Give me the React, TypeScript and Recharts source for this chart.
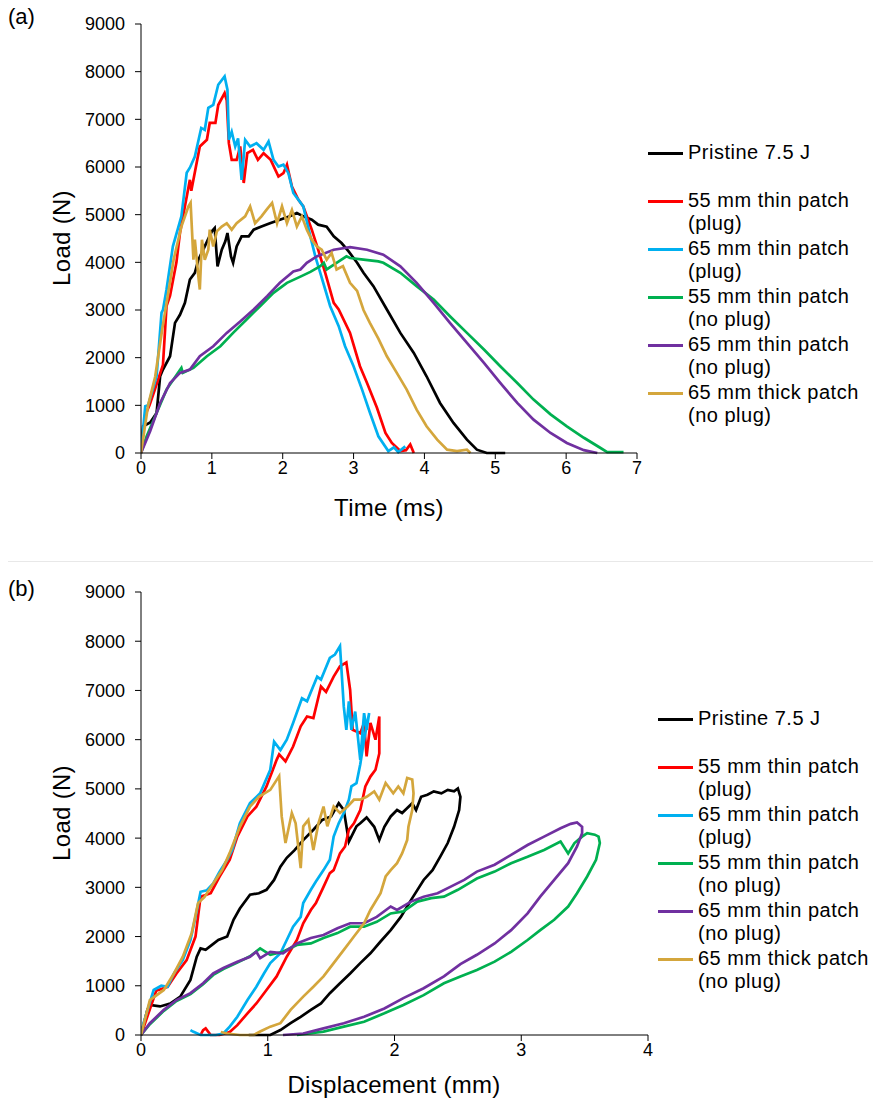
import { LineChart, Line, XAxis, YAxis } from 'recharts'

// ---- series names + colours ----
const SERIES_NAMES = [
  ['Pristine 7.5 J'],
  ['55 mm thin patch', '(plug)'],
  ['65 mm thin patch', '(plug)'],
  ['55 mm thin patch', '(no plug)'],
  ['65 mm thin patch', '(no plug)'],
  ['65 mm thick patch', '(no plug)'],
]
const SERIES_COLORS = ['#000000', '#ff0000', '#00b0f0', '#00b050', '#7030a0', '#d4a63c']

const LOAD_TICKS = [0, 1000, 2000, 3000, 4000, 5000, 6000, 7000, 8000, 9000]
const TIME_TICKS = [0, 1, 2, 3, 4, 5, 6, 7]
const DISP_TICKS = [0, 1, 2, 3, 4]

// ---- (a) load vs time, [ms, N] ----
const PRISTINE_TIME = [
  [0, 0], [0.03, 560], [0.13, 640], [0.22, 840], [0.27, 1610], [0.31, 1750], [0.41, 2030], [0.48, 2730],
  [0.55, 2900], [0.62, 3150], [0.69, 3640], [0.76, 3780], [0.81, 4055], [0.9, 4335], [1.0, 4650], [1.04, 4720],
  [1.08, 3915], [1.14, 4265], [1.19, 4440], [1.22, 4615], [1.27, 4125], [1.3, 3990], [1.35, 4335], [1.42, 4545],
  [1.52, 4545], [1.59, 4685], [1.7, 4750], [1.82, 4820], [1.96, 4895], [2.1, 4965], [2.2, 5035], [2.29, 4965],
  [2.41, 4895], [2.5, 4790], [2.62, 4750], [2.72, 4545], [2.83, 4405], [2.93, 4230], [3.05, 3990], [3.14, 3780],
  [3.28, 3500], [3.47, 3010], [3.66, 2520], [3.85, 2100], [4.03, 1610], [4.22, 1050], [4.41, 630], [4.6, 280],
  [4.74, 70], [4.88, 0], [5.14, 0],
]
const RED_TIME = [
  [0, 0], [0.06, 800], [0.12, 1000], [0.2, 1350], [0.31, 1850], [0.36, 3080], [0.41, 3300], [0.5, 4000],
  [0.55, 4620], [0.69, 5730], [0.71, 5500], [0.83, 6430], [0.93, 6570], [0.97, 6925], [1.05, 6925], [1.09, 7300],
  [1.18, 7550], [1.21, 7400], [1.24, 6500], [1.28, 6150], [1.35, 6150], [1.4, 6430], [1.45, 5665], [1.5, 6290],
  [1.58, 6360], [1.65, 6150], [1.73, 6290], [1.83, 6150], [1.94, 5800], [2.01, 5870], [2.06, 6050], [2.13, 5590],
  [2.22, 5315], [2.29, 5175], [2.41, 4685], [2.5, 4265], [2.6, 3780], [2.72, 3150], [2.79, 3010], [2.95, 2520],
  [3.09, 1820], [3.19, 1470], [3.33, 950], [3.45, 420], [3.54, 210], [3.66, 40], [3.74, 60], [3.8, 180], [3.85, 0],
]
const BLUE_TIME = [
  [0, 0], [0.06, 980], [0.1, 1000], [0.22, 1610], [0.29, 2945], [0.31, 3000], [0.36, 3430], [0.45, 4335],
  [0.57, 4965], [0.645, 5880], [0.69, 5985], [0.76, 6220], [0.85, 6820], [0.9, 6780], [0.95, 7240], [1.02, 7305],
  [1.09, 7725], [1.18, 7900], [1.22, 7620], [1.24, 6570], [1.28, 6740], [1.33, 6430], [1.37, 6600], [1.42, 5730],
  [1.47, 6570], [1.54, 6430], [1.63, 6500], [1.73, 6360], [1.8, 6535], [1.87, 6150], [1.94, 6010], [2.01, 6050],
  [2.08, 5870], [2.15, 5455], [2.22, 5315], [2.29, 5175], [2.39, 4545], [2.46, 4125], [2.53, 3780], [2.6, 3430],
  [2.67, 3080], [2.79, 2660], [2.88, 2240], [3.0, 1820], [3.12, 1330], [3.23, 850], [3.35, 350], [3.49, 40],
  [3.57, 120], [3.63, 20], [3.73, 140],
]
const GREEN_TIME = [
  [0, 0], [0.08, 350], [0.22, 840], [0.36, 1330], [0.57, 1785], [0.59, 1680], [0.74, 1785], [0.93, 2030],
  [1.12, 2240], [1.3, 2520], [1.49, 2800], [1.68, 3080], [1.87, 3360], [2.06, 3570], [2.25, 3700], [2.39, 3800],
  [2.53, 3920], [2.58, 3990], [2.62, 3850], [2.76, 3990], [2.9, 4125], [2.95, 4090], [3.14, 4055], [3.35, 4020],
  [3.42, 3990], [3.66, 3780], [3.89, 3500], [4.13, 3220], [4.36, 2870], [4.6, 2520], [4.84, 2170], [5.07, 1820],
  [5.31, 1470], [5.54, 1120], [5.78, 810], [6.01, 560], [6.25, 320], [6.48, 110], [6.58, 20], [6.81, 20],
]
const PURPLE_TIME = [
  [0, 0], [0.13, 460], [0.27, 1050], [0.41, 1470], [0.55, 1680], [0.69, 1750], [0.83, 2030], [1.02, 2240],
  [1.21, 2520], [1.4, 2760], [1.59, 3010], [1.78, 3290], [1.96, 3570], [2.15, 3810], [2.25, 3850], [2.34, 3990],
  [2.48, 4125], [2.72, 4265], [2.95, 4320], [3.19, 4265], [3.42, 4160], [3.66, 3915], [3.89, 3570], [4.13, 3150],
  [4.36, 2730], [4.6, 2310], [4.84, 1890], [5.07, 1470], [5.31, 1050], [5.54, 700], [5.78, 420], [6.01, 210],
  [6.25, 60], [6.44, 0],
]
const GOLD_TIME = [
  [0, 0], [0.1, 1000], [0.2, 1600], [0.3, 2600], [0.4, 3500], [0.46, 4055], [0.57, 4750], [0.67, 5175],
  [0.7, 5250], [0.74, 4055], [0.76, 4475], [0.81, 3700], [0.83, 3430], [0.86, 4475], [0.9, 4055], [0.95, 4265],
  [0.97, 4685], [1.02, 4335], [1.07, 4650], [1.14, 4750], [1.21, 4820], [1.28, 4685], [1.35, 4820], [1.47, 4965],
  [1.54, 5175], [1.61, 4820], [1.7, 4965], [1.77, 5100], [1.85, 5245], [1.92, 4820], [1.99, 5175], [2.06, 4820],
  [2.13, 5100], [2.2, 4750], [2.27, 4965], [2.34, 4685], [2.41, 4475], [2.48, 4335], [2.55, 4265], [2.62, 4055],
  [2.69, 4195], [2.76, 3850], [2.85, 3920], [2.95, 3570], [3.05, 3400], [3.14, 3000], [3.23, 2730], [3.35, 2400],
  [3.47, 2030], [3.61, 1680], [3.75, 1330], [3.89, 910], [4.03, 560], [4.18, 280], [4.32, 70], [4.46, 40],
  [4.6, 70], [4.65, 0],
]

// ---- (b) load vs displacement, [mm, N] ----
const PRISTINE_DISP = [
  [0, 0], [0.05, 510], [0.07, 610], [0.15, 580], [0.23, 640], [0.31, 780], [0.39, 1120], [0.44, 1590],
  [0.47, 1760], [0.51, 1730], [0.56, 1830], [0.61, 1930], [0.68, 2000], [0.73, 2340], [0.78, 2570], [0.86, 2850],
  [0.93, 2880], [0.99, 2950], [1.05, 3150], [1.1, 3420], [1.15, 3600], [1.21, 3750], [1.28, 3960], [1.36, 4170],
  [1.43, 4370], [1.5, 4440], [1.56, 4710], [1.6, 4570], [1.64, 3930], [1.7, 4240], [1.73, 4300], [1.78, 4420],
  [1.84, 4230], [1.88, 3960], [1.92, 4230], [1.97, 4440], [2.02, 4570], [2.06, 4510], [2.14, 4710], [2.17, 4570],
  [2.21, 4840], [2.26, 4880], [2.31, 4950], [2.37, 4910], [2.42, 4980], [2.47, 4950], [2.5, 5010], [2.52, 4840],
  [2.51, 4570], [2.47, 4230], [2.42, 3900], [2.36, 3620], [2.3, 3350], [2.23, 3150], [2.13, 2740], [2.05, 2400],
  [1.97, 2130], [1.89, 1900], [1.81, 1660], [1.73, 1460], [1.65, 1250], [1.57, 1050], [1.49, 850], [1.42, 640],
  [1.34, 510], [1.26, 370], [1.18, 240], [1.1, 100], [1.02, 0], [0.85, 0],
]
const RED_DISP = [
  [0, 0], [0.12, 900], [0.21, 980], [0.28, 1250], [0.36, 1520], [0.43, 2000], [0.47, 2810], [0.55, 2880],
  [0.62, 3220], [0.7, 3560], [0.76, 4030], [0.84, 4440], [0.91, 4640], [0.99, 5050], [1.07, 5590], [1.09, 5700],
  [1.14, 5560], [1.2, 5860], [1.26, 6270], [1.31, 6470], [1.36, 6440], [1.42, 7080], [1.46, 6970], [1.52, 7280],
  [1.57, 7490], [1.62, 7570], [1.65, 7010], [1.67, 6200], [1.73, 6130], [1.76, 6340], [1.78, 5660], [1.81, 6340],
  [1.85, 6000], [1.88, 6470], [1.88, 5720], [1.85, 5390], [1.81, 5250], [1.77, 5050], [1.73, 4570], [1.68, 4300],
  [1.64, 4170], [1.61, 3830], [1.57, 3690], [1.52, 3350], [1.49, 3290], [1.44, 3010], [1.38, 2680], [1.34, 2540],
  [1.28, 2270], [1.23, 1930], [1.15, 1590], [1.07, 1190], [0.99, 915], [0.91, 640], [0.84, 440], [0.76, 200],
  [0.7, 60], [0.62, 0], [0.55, 0], [0.51, 135], [0.49, 100], [0.47, 0],
]
const BLUE_DISP = [
  [0, 0], [0.02, 240], [0.1, 915], [0.16, 1000], [0.21, 980], [0.26, 1250], [0.33, 1525], [0.39, 1930],
  [0.43, 2400], [0.47, 2910], [0.52, 2940], [0.57, 3080], [0.62, 3320], [0.68, 3560], [0.72, 3760], [0.78, 4300],
  [0.86, 4710], [0.94, 4910], [1.02, 5390], [1.05, 5960], [1.1, 5790], [1.15, 6000], [1.2, 6340], [1.27, 6840],
  [1.31, 6780], [1.39, 7280], [1.42, 7220], [1.49, 7660], [1.53, 7730], [1.57, 7900], [1.6, 6670], [1.62, 6200],
  [1.64, 6780], [1.66, 6200], [1.69, 6570], [1.73, 5590], [1.76, 6540], [1.78, 6200], [1.8, 6540], [1.76, 6000],
  [1.73, 5500], [1.7, 5115], [1.66, 5050], [1.64, 4780], [1.6, 4510], [1.56, 4300], [1.52, 4030], [1.49, 3560],
  [1.44, 3350], [1.38, 3120], [1.34, 2950], [1.28, 2680], [1.26, 2400], [1.2, 2200], [1.15, 1930], [1.1, 1660],
  [1.02, 1460], [0.97, 1250], [0.91, 980], [0.84, 710], [0.76, 370], [0.7, 170], [0.65, 30], [0.59, 0],
  [0.47, 0], [0.41, 70], [0.39, 100],
]
const GREEN_DISP = [
  [0, 0], [0.07, 220], [0.18, 490], [0.28, 690], [0.39, 830], [0.49, 1030], [0.57, 1220], [0.65, 1340],
  [0.76, 1470], [0.86, 1600], [0.94, 1760], [1.02, 1630], [1.12, 1690], [1.23, 1830], [1.34, 1860], [1.44, 1970],
  [1.55, 2070], [1.65, 2200], [1.76, 2200], [1.86, 2300], [1.97, 2470], [2.07, 2510], [2.18, 2710], [2.29, 2780],
  [2.39, 2810], [2.5, 2950], [2.65, 3180], [2.79, 3320], [2.92, 3490], [3.05, 3620], [3.18, 3760], [3.31, 3930],
  [3.37, 3690], [3.42, 3900], [3.48, 4030], [3.52, 4100], [3.58, 4070], [3.61, 4030], [3.62, 3900], [3.59, 3560],
  [3.52, 3220], [3.44, 2880], [3.37, 2610], [3.26, 2340], [3.15, 2130], [3.05, 1930], [2.92, 1690], [2.79, 1490],
  [2.65, 1320], [2.52, 1190], [2.39, 1050], [2.23, 810], [2.07, 610], [1.92, 440], [1.76, 270], [1.6, 170],
  [1.44, 70], [1.23, 0],
]
const PURPLE_DISP = [
  [0, 0], [0.07, 240], [0.18, 510], [0.28, 710], [0.39, 850], [0.49, 1050], [0.57, 1250], [0.65, 1360],
  [0.76, 1490], [0.86, 1590], [0.91, 1690], [0.94, 1560], [1.02, 1690], [1.12, 1660], [1.23, 1860], [1.34, 1970],
  [1.44, 2030], [1.55, 2170], [1.65, 2270], [1.76, 2270], [1.86, 2400], [1.97, 2610], [2.02, 2540], [2.13, 2710],
  [2.23, 2810], [2.34, 2880], [2.44, 3010], [2.55, 3150], [2.65, 3320], [2.79, 3460], [2.92, 3660], [3.05, 3860],
  [3.18, 4030], [3.31, 4200], [3.39, 4290], [3.44, 4320], [3.48, 4230], [3.48, 4100], [3.44, 3830], [3.37, 3490],
  [3.26, 3150], [3.15, 2810], [3.05, 2470], [2.92, 2130], [2.79, 1860], [2.65, 1630], [2.52, 1440], [2.39, 1190],
  [2.23, 950], [2.07, 750], [1.92, 540], [1.76, 370], [1.6, 240], [1.44, 135], [1.28, 30], [1.12, 0],
]
const GOLD_DISP = [
  [0, 0], [0.07, 710], [0.18, 915], [0.26, 1250], [0.33, 1590], [0.4, 2070], [0.45, 2680], [0.5, 2800],
  [0.57, 3080], [0.64, 3350], [0.7, 3700], [0.78, 4230], [0.86, 4640], [0.93, 4840], [1.02, 4980], [1.09, 5260],
  [1.11, 4440], [1.14, 3900], [1.19, 4510], [1.22, 4300], [1.26, 3390], [1.28, 4240], [1.32, 4370], [1.36, 3760],
  [1.4, 4300], [1.44, 4640], [1.47, 4240], [1.52, 4640], [1.57, 4510], [1.63, 4640], [1.68, 4780], [1.73, 4780],
  [1.78, 4840], [1.84, 4950], [1.88, 4780], [1.93, 5120], [1.99, 4910], [2.03, 5050], [2.07, 4910], [2.1, 5220],
  [2.14, 5190], [2.15, 4910], [2.14, 4570], [2.11, 4230], [2.1, 3960], [2.06, 3690], [2.02, 3490], [1.97, 3350],
  [1.93, 3220], [1.89, 2880], [1.81, 2540], [1.76, 2270], [1.68, 2000], [1.6, 1730], [1.52, 1460], [1.44, 1190],
  [1.36, 980], [1.28, 780], [1.18, 510], [1.1, 240], [1.02, 170], [0.94, 70], [0.89, 0], [0.78, 0],
  [0.68, 30], [0.63, 60],
]

const TIME_SERIES = [PRISTINE_TIME, RED_TIME, BLUE_TIME, GREEN_TIME, PURPLE_TIME, GOLD_TIME]
const DISP_SERIES = [PRISTINE_DISP, RED_DISP, BLUE_DISP, GREEN_DISP, PURPLE_DISP, GOLD_DISP]

const FONT = '"Liberation Sans", Arial, sans-serif'
const tickStyle = { fontSize: 18, fill: '#000', fontFamily: FONT }
const titleStyle: React.CSSProperties = { fontSize: 24, letterSpacing: 0.3, whiteSpace: 'nowrap' }

const toPoints = (rows: number[][]) => rows.map(([x, y]) => ({ x, y }))

function Panel({ series, xTicks, width, height, margin }: {
  series: number[][][]
  xTicks: number[]
  width: number
  height: number
  margin: { top: number; right: number; bottom: number; left: number }
}) {
  return (
    <LineChart width={width} height={height} margin={margin}>
      <XAxis
        type="number"
        dataKey="x"
        domain={[xTicks[0], xTicks[xTicks.length - 1]]}
        ticks={xTicks}
        interval={0}
        tick={tickStyle}
        tickSize={6}
        tickMargin={2}
        height={40}
        stroke="#000"
        allowDataOverflow
      />
      <YAxis
        type="number"
        dataKey="y"
        domain={[0, 9000]}
        ticks={LOAD_TICKS}
        interval={0}
        tick={tickStyle}
        tickSize={6}
        tickMargin={10}
        width={141}
        stroke="#000"
      />
      {series.map((rows, i) => (
        <Line
          key={i}
          data={toPoints(rows)}
          dataKey="y"
          type="linear"
          stroke={SERIES_COLORS[i]}
          strokeWidth={2.7}
          dot={false}
          activeDot={false}
          isAnimationActive={false}
        />
      ))}
    </LineChart>
  )
}

function LegendBlock({ left, top }: { left: number; top: number }) {
  return (
    <>
      {SERIES_NAMES.map((lines, i) => (
        <div key={i} style={{ position: 'absolute', left, top: top + i * 48 - 12 }}>
          <div style={{ position: 'absolute', left: 0, top: 11, width: 35, height: 3, background: SERIES_COLORS[i] }} />
          <div style={{ position: 'absolute', left: 40, top: 0, fontSize: 20, lineHeight: '23px', letterSpacing: 0.5, whiteSpace: 'nowrap' }}>
            {lines.map((l, j) => <div key={j}>{l}</div>)}
          </div>
        </div>
      ))}
    </>
  )
}

const abs = (left: number, top: number): React.CSSProperties => ({ position: 'absolute', left, top })

export default function App() {
  return (
    <div style={{ position: 'absolute', left: 0, top: 0, width: 873, height: 1104, background: '#fff', fontFamily: FONT, color: '#000' }}>
      {/* (a) */}
      <div style={{ ...abs(8, 4), fontSize: 22 }}>(a)</div>
      <div style={abs(0, 0)}>
        <Panel series={TIME_SERIES} xTicks={TIME_TICKS} width={660} height={530}
          margin={{ top: 24, right: 23, bottom: 37, left: 0 }} />
      </div>
      <div style={{ ...abs(62, 238), ...titleStyle, transform: 'translate(-50%, -50%) rotate(-90deg)' }}>Load (N)</div>
      <div style={{ ...abs(389, 508), ...titleStyle, transform: 'translate(-50%, -50%)' }}>Time (ms)</div>
      <LegendBlock left={648} top={153} />

      <div style={{ position: 'absolute', left: 8, top: 561, width: 865, height: 1, background: '#e8e8e8' }} />

      {/* (b) */}
      <div style={{ ...abs(8, 576), fontSize: 22 }}>(b)</div>
      <div style={abs(0, 560)}>
        <Panel series={DISP_SERIES} xTicks={DISP_TICKS} width={670} height={530}
          margin={{ top: 32, right: 22, bottom: 15, left: 0 }} />
      </div>
      <div style={{ ...abs(62, 813), ...titleStyle, transform: 'translate(-50%, -50%) rotate(-90deg)' }}>Load (N)</div>
      <div style={{ ...abs(394, 1085), ...titleStyle, transform: 'translate(-50%, -50%)' }}>Displacement (mm)</div>
      <LegendBlock left={658} top={719} />
    </div>
  )
}
